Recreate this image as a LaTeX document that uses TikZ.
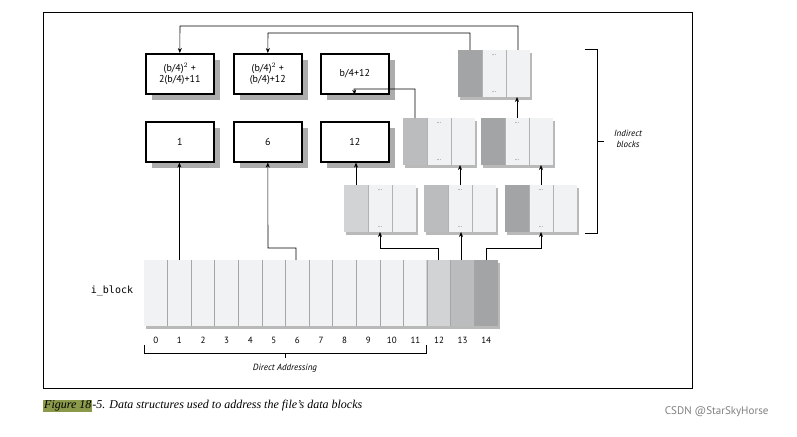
\documentclass[tikz,border=0pt]{standalone}
\usepackage{fontspec}
\setmainfont{PT Sans}
\newfontfamily\capfont{Liberation Serif}
\newfontfamily\monofont{DejaVu Sans Mono}
\usetikzlibrary{arrows.meta}
\definecolor{gLight}{HTML}{D2D3D5}
\definecolor{gMid}{HTML}{BBBCBE}
\definecolor{gDark}{HTML}{A3A4A6}
\definecolor{gWhite}{HTML}{F1F2F3}
\definecolor{hlcol}{HTML}{8A9A4A}
\tikzset{
  box/.style={draw,line width=1.6pt,fill=white,minimum width=68pt,minimum height=40pt,inner sep=0pt,align=center,font=\fontsize{10}{11}\selectfont},
  arr/.style={-{Stealth[length=5pt,width=4pt]},line width=0.6pt}
}
\newcommand{\shbox}[4]{% name, x, y, text
  \fill[gray!65] (#2+7,#3+7) rectangle (#2+75,#3+47);
  \node[box,anchor=north west] (#1) at (#2,#3) {#4};}
\newcommand{\iblk}[4]{% name, x, y, color
  \fill[gray!55] (#2+2,#3+3) rectangle (#2+74,#3+50);
  \fill[fill=#4] (#2,#3) rectangle (#2+24,#3+47);
  \fill[fill=gWhite] (#2+24,#3) rectangle (#2+72,#3+47);
  \draw[gray!60,line width=0.8pt] (#2+24,#3) -- (#2+24,#3+47) (#2+48,#3) -- (#2+48,#3+47);
  \coordinate (#1a) at (#2+12,#3);
  \coordinate (#1b) at (#2+36,#3);
  \coordinate (#1c) at (#2+60,#3);
  \coordinate (#1bb) at (#2+36,#3+47);
  \node[font=\tiny,inner sep=0pt] at (#2+36,#3+5) {...};
  \node[font=\tiny,inner sep=0pt] at (#2+36,#3+42) {...};}
\begin{document}
\begin{tikzpicture}[x=1pt,y=-1pt]
\useasboundingbox (0,0) rectangle (797,436);
\fill[white] (0,0) rectangle (797,436);
\draw[line width=0.6pt] (43,12) rectangle (692,388);
% data boxes
\shbox{b1}{145}{53}{(b/4)$^{2}$ +\\2(b/4)+11}
\shbox{b2}{233}{53}{(b/4)$^{2}$ +\\(b/4)+12}
\shbox{b3}{320}{53}{b/4+12}
\shbox{d1}{145}{121}{1}
\shbox{d6}{233}{121}{6}
\shbox{d12}{320}{121}{12}
% indirect blocks
\iblk{t}{458}{50}{gDark}
\iblk{pa}{403}{118}{gMid}
\iblk{pb}{481}{118}{gDark}
\iblk{qa}{344}{185}{gLight}
\iblk{qb}{424}{185}{gMid}
\iblk{qc}{505}{185}{gDark}
% i_block array
\fill[gray!55] (146,263) rectangle (500,329);
\fill[gWhite] (144,260) rectangle (426,326);
\fill[gLight] (426,260) rectangle (450,326);
\fill[gMid] (450,260) rectangle (474,326);
\fill[gDark] (474,260) rectangle (498,326);
\foreach \i in {1,...,14} \draw[gray!70,line width=0.8pt] (144+23.6*\i,260) -- (144+23.6*\i,326);
\foreach \i in {0,...,14} \node[font=\fontsize{9}{10}\selectfont] at (155.8+23.6*\i,340) {\i};
\node[font=\monofont\fontsize{10}{11}\selectfont] (ib) at (112,291) {i\_block};
\coordinate (c1) at (179.4,260);
\coordinate (c6) at (296,260);
\coordinate (c12) at (438,260);
\coordinate (c13) at (461,260);
\coordinate (c14) at (486,260);
% arrows
\draw[arr] (c1) -- (d1.south-|c1);
\draw[arr] (c6) -- (296,248) -- (268,248) -- (d6.south);
\draw[arr] (c12) -- (438,248) -- (380,248) -- (qabb);
\draw[arr] (c13) -- (qbbb-|c13);
\draw[arr] (c14) -- (486,248) -- (541,248) -- (qcbb);
\draw[arr] (qaa) -- (d12.south-|qaa);
\draw[arr] (qbb) -- (pabb-|qbb);
\draw[arr] (qcb) -- (pbbb-|qcb);
\draw[arr] (paa) -- (415,89) -- (354,89) -- (b3.south);
\draw[arr] (pbb) -- (tbb-|pbb);
\draw[arr] (ta) -- (470,33) -- (268,33) -- (b2.north);
\draw[arr] (tc) -- (518,26) -- (180,26) -- (b1.north);
% braces
\draw[line width=0.6pt] (585,49) -- (597,49) -- (597,233) -- (585,233) (597,141) -- (604,141);
\node[font=\itshape\fontsize{9}{11}\selectfont,align=center] at (628,139) {Indirect\\blocks};
\draw[line width=0.6pt] (144,345) -- (144,353) -- (426,353) -- (426,345) (285,353) -- (285,358);
\node[font=\itshape\fontsize{9}{10}\selectfont] at (285,368) {Direct Addressing};
% caption
\node[anchor=west,inner sep=0pt,font=\capfont\itshape\fontsize{12}{13}\selectfont] at (43,406) {\setlength{\fboxsep}{1pt}\colorbox{hlcol}{Figure 18}-5. Data structures used to address the file’s data blocks};
\node[anchor=east,text=gray,font=\fontsize{11}{12}\selectfont] at (772,412) {CSDN @StarSkyHorse};
\end{tikzpicture}
\end{document}
